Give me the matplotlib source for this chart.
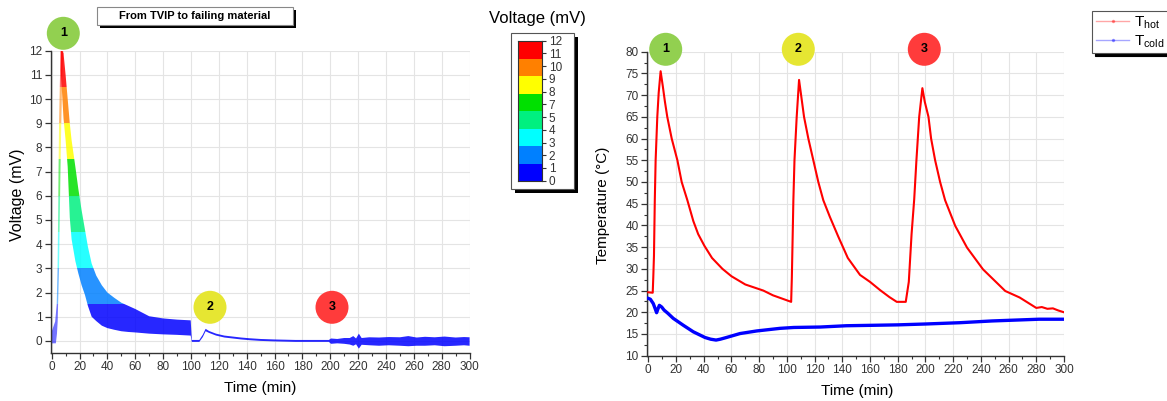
import numpy as np
import matplotlib
matplotlib.use('Agg')
import matplotlib.pyplot as plt
from matplotlib.colors import ListedColormap, Normalize
from matplotlib.patches import Ellipse, Rectangle
from matplotlib.lines import Line2D
from matplotlib.ticker import MultipleLocator

plt.rcParams['font.family'] = ['Liberation Sans', 'DejaVu Sans']
plt.rcParams['mathtext.fontset'] = 'custom'
plt.rcParams['mathtext.rm'] = 'Liberation Sans'
plt.rcParams['mathtext.it'] = 'Liberation Sans:italic'

W, H = 1167, 401

# left panel: voltage cloud ---------------------------------------------------------------
# sparse rising column (voltage levels and time span at each level)
col_v = [-0.1, 0.3, 0.8, 1.5, 3.0, 5.0, 7.0, 9.0, 11.0, 12.0]
col_t_left = [-0.5, -0.5, 2.5, 3.6, 4.2, 4.6, 4.9, 5.3, 6.0, 6.5]
col_t_right = [3.0, 3.8, 4.3, 4.6, 5.3, 5.8, 6.3, 6.9, 7.6, 8.3]

# main decaying band + later trace (upper / lower envelope)
env_t = [6.5, 7.5, 8.5, 10, 11.5, 13, 14.3, 17, 19.1, 21.5, 23.9, 26, 28.7, 32, 36, 40, 45, 50, 55, 60, 70, 80, 90, 99.8,
         100.6, 106, 108.5, 110.5, 113, 118, 124, 130, 136, 142, 150, 160, 175, 199,
         200.5, 205, 210, 214, 216.5, 218.5, 220.5, 222.5, 228, 235, 242, 250, 256, 262, 268, 275, 282, 290, 296, 300]
env_hi = [12, 12, 11.9, 11.0, 10.0, 9.0, 8.3, 7.2, 6.3, 5.4, 4.6, 3.9, 3.2, 2.7, 2.3, 2.0, 1.78, 1.58, 1.45, 1.32, 1.02, 0.93, 0.88, 0.85,
          0.04, 0.04, 0.26, 0.5, 0.41, 0.3, 0.22, 0.18, 0.14, 0.11, 0.08, 0.06, 0.04, 0.04,
          0.1, 0.08, 0.12, 0.12, 0.2, 0.1, 0.3, 0.12, 0.15, 0.14, 0.16, 0.15, 0.2, 0.14, 0.17, 0.15, 0.18, 0.14, 0.16, 0.15]
env_lo = [11.2, 10.2, 9.2, 8.3, 7.2, 5.1, 4.2, 3.3, 2.8, 2.3, 1.9, 1.45, 1.0, 0.82, 0.63, 0.53, 0.46, 0.4, 0.37, 0.35, 0.3, 0.27, 0.25, 0.22,
          -0.04, -0.04, 0.16, 0.4, 0.33, 0.22, 0.14, 0.1, 0.06, 0.03, 0.0, -0.02, -0.04, -0.04,
          -0.12, -0.1, -0.12, -0.15, -0.2, -0.14, -0.32, -0.16, -0.18, -0.2, -0.18, -0.2, -0.22, -0.2, -0.2, -0.18, -0.22, -0.2, -0.18, -0.2]

volt_colors = ['#0000ff', '#0080ff', '#00ffff', '#00f080', '#00e000', '#ffff00', '#ff8000', '#ff0000']
cbar_labels = ['0', '1', '2', '3', '4', '5', '7', '8', '9', '10', '11', '12']

# right panel: temperatures --------------------------------------------------------------
t_hot = [0, 3.2, 3.6, 4.1, 4.7, 5.3, 6.5, 7.5, 8.9, 10.5, 12.0, 13.7, 16.9, 21.0, 24.1, 28.2, 32.5, 36.0, 40.5, 46.0,
         53.5, 60.0, 70.0, 83.0, 90.0, 97.0, 103.1, 103.6, 104.7, 105.5, 107.1, 108.8, 110.5, 112.4, 115.5, 119.1,
         122.7, 126.3, 131.0, 137.0, 144.0, 152.8, 160.0, 167.3, 174.0, 179.3, 185.8, 188.0, 190.0, 191.9, 193.5,
         195.5, 197.8, 199.5, 202.2, 204.1, 207.0, 210.6, 214.2, 221.5, 230.0, 241.5, 257.6, 268.0, 280.0, 284.0,
         288.0, 292.0, 296.0, 300.0]
T_hot = [24.6, 24.5, 28, 33, 45.8, 55, 65, 70.5, 75.5, 72, 68.5, 65, 60, 55, 50, 45.8, 41, 38, 35.3, 32.5,
         30, 28.3, 26.4, 25, 23.9, 23.1, 22.4, 28, 45.8, 55, 65, 73.5, 69.5, 65, 60, 55,
         50, 45.8, 42, 37.5, 32.5, 28.6, 27, 25.1, 23.5, 22.4, 22.4, 27, 38, 46, 55,
         65, 71.6, 68.5, 65, 60, 55, 50, 45.8, 39.9, 34.9, 29.9, 24.9, 23.4, 21.0, 21.2,
         20.8, 20.9, 20.4, 20.0]

t_cold = [0, 1.5, 3.6, 5, 6, 7, 8, 9.7, 11.4, 14, 18, 25.3, 32.5, 40.9, 45, 48.9, 52, 56.5, 66.2, 78.3, 95.1,
          105, 124, 143, 162, 180, 200, 225, 248, 265, 282, 300]
T_cold = [23.2, 23.0, 22.0, 20.8, 19.9, 20.8, 21.6, 21.2, 20.5, 19.8, 18.6, 17.0, 15.5, 14.2, 13.8, 13.6, 13.8, 14.2,
          15.1, 15.7, 16.3, 16.5, 16.6, 16.9, 17.0, 17.1, 17.3, 17.6, 18.0, 18.2, 18.4, 18.4]


def fig_rect(x0, y0, x1, y1):
    # pixel box (top-left origin) -> figure fraction rect
    return [x0 / W, 1 - y1 / H, (x1 - x0) / W, (y1 - y0) / H]


def style_axes(ax):
    for s in ['top', 'right']:
        ax.spines[s].set_visible(False)
    for s in ['left', 'bottom']:
        ax.spines[s].set_color('#333333')
        ax.spines[s].set_linewidth(1.0)
    ax.tick_params(which='major', direction='out', length=4, width=0.9, colors='#333333', labelsize=8.5, pad=2)
    ax.tick_params(which='minor', direction='out', length=2.5, width=0.8, colors='#333333')
    ax.grid(True, which='major', color='#e4e4e4', lw=0.8)
    ax.set_axisbelow(True)


def circle_label(x, y, text, color):
    fig.add_artist(Ellipse((x / W, 1 - y / H), 33 / W, 33 / H, transform=fig.transFigure,
                           facecolor=color, edgecolor='none'))
    fig.text(x / W, 1 - y / H, text, ha='center', va='center', fontsize=9, fontweight='bold')


def shadow_box(x0, y0, x1, y1, off=3, edge='#888888'):
    fig.add_artist(Rectangle(((x0 + off) / W, 1 - (y1 + off) / H), (x1 - x0) / W, (y1 - y0) / H,
                             transform=fig.transFigure, facecolor='black', edgecolor='none', zorder=0.2))
    fig.add_artist(Rectangle((x0 / W, 1 - y1 / H), (x1 - x0) / W, (y1 - y0) / H,
                             transform=fig.transFigure, facecolor='white', edgecolor=edge, lw=0.8, zorder=0.3))


fig = plt.figure(figsize=(W / 100, H / 100), dpi=100)

cmap = ListedColormap(volt_colors)
norm = Normalize(0, 12)
grad = np.linspace(-0.6, 12.2, 800).reshape(-1, 1)

#left panel ------------------------------------------------------------------------------
ax1 = fig.add_axes(fig_rect(50.7, 50.7, 469.6, 353))
style_axes(ax1)


def gradient_fill(ax, coll, alpha):
    path = coll.get_paths()[0]
    im = ax.imshow(grad, extent=[-1, 301, -0.6, 12.2], origin='lower', aspect='auto',
                   cmap=cmap, norm=norm, alpha=alpha, zorder=2, interpolation='nearest')
    im.set_clip_path(path, transform=ax.transData)


col = ax1.fill_betweenx(col_v, col_t_left, col_t_right, facecolor='none', edgecolor='none')
gradient_fill(ax1, col, 0.55)
band = ax1.fill_between(env_t, env_lo, env_hi, facecolor='none', edgecolor='none')
gradient_fill(ax1, band, 0.85)

ax1.set_xlim(-0.7, 300)
ax1.set_ylim(-0.5, 12)
ax1.xaxis.set_major_locator(MultipleLocator(20))
ax1.xaxis.set_minor_locator(MultipleLocator(10))
ax1.yaxis.set_major_locator(MultipleLocator(1))

fig.text(260 / W, 1 - 388 / H, 'Time (min)', ha='center', va='center', fontsize=11)
fig.text(18 / W, 1 - 195 / H, 'Voltage (mV)', ha='center', va='center', fontsize=11.5, rotation=90)

# title box
shadow_box(97, 7, 293, 25)
fig.text(195 / W, 1 - 16 / H, 'From TVIP to failing material', ha='center', va='center',
         fontsize=8, fontweight='bold')

# colour scale box
fig.text(537 / W, 1 - 18 / H, 'Voltage (mV)', ha='center', va='center', fontsize=12)
shadow_box(510.7, 32.7, 574, 189, off=4, edge='#555555')
cax = fig.add_axes(fig_rect(518.3, 40.7, 542.3, 180.7))
cax.set_zorder(2)
cax.imshow(np.arange(len(volt_colors)).reshape(-1, 1), cmap=cmap, origin='lower', aspect='auto',
           extent=[0, 1, 0, len(volt_colors)], interpolation='nearest')
cax.set_xticks([])
cax.yaxis.tick_right()
cax.set_yticks(np.linspace(0, len(volt_colors), len(cbar_labels)))
cax.set_yticklabels(cbar_labels)
cax.tick_params(axis='y', length=3, width=0.8, colors='#333333', labelsize=8.5, pad=1.5)
for s in cax.spines.values():
    s.set_color('#333333')
    s.set_linewidth(0.8)

circle_label(63.3, 33.3, '1', '#92d050')
circle_label(210, 307.3, '2', '#e6e632')
circle_label(332, 307.3, '3', '#ff3b3b')

#right panel -----------------------------------------------------------------------------
ax2 = fig.add_axes(fig_rect(646.9, 51.7, 1064, 355.7))
style_axes(ax2)
ax2.plot(t_hot, T_hot, color='#ff0000', lw=1.5, zorder=3)
ax2.plot(t_cold, T_cold, color='#0000ff', lw=2.4, zorder=3)
ax2.set_xlim(-1, 300)
ax2.set_ylim(10, 80)
ax2.xaxis.set_major_locator(MultipleLocator(20))
ax2.xaxis.set_minor_locator(MultipleLocator(10))
ax2.yaxis.set_major_locator(MultipleLocator(5))
ax2.yaxis.set_minor_locator(MultipleLocator(2.5))

fig.text(857 / W, 1 - 391 / H, 'Time (min)', ha='center', va='center', fontsize=11)
fig.text(603 / W, 1 - 205 / H, 'Temperature (°C)', ha='center', va='center', fontsize=11, rotation=90)

handles = [Line2D([], [], color='red', alpha=0.35, lw=1, marker='.', markersize=3),
           Line2D([], [], color='blue', alpha=0.35, lw=1, marker='.', markersize=3)]
leg = fig.legend(handles, ['T$_{\\rm hot}$', 'T$_{\\rm cold}$'], loc='upper left',
                 bbox_to_anchor=(1092 / W, 1 - 10.7 / H), borderaxespad=0, fontsize=11,
                 handlelength=2.2, handletextpad=0.3, labelspacing=0.15, borderpad=0.25,
                 fancybox=False, edgecolor='#555555', framealpha=1,
                 shadow={'color': 'black', 'alpha': 1, 'ox': 2, 'oy': -2})
leg.get_frame().set_linewidth(0.8)

circle_label(665.7, 49.3, '1', '#92d050')
circle_label(798.3, 49.3, '2', '#e6e632')
circle_label(924.3, 49.3, '3', '#ff3b3b')

fig.savefig('out.png', dpi=100)
